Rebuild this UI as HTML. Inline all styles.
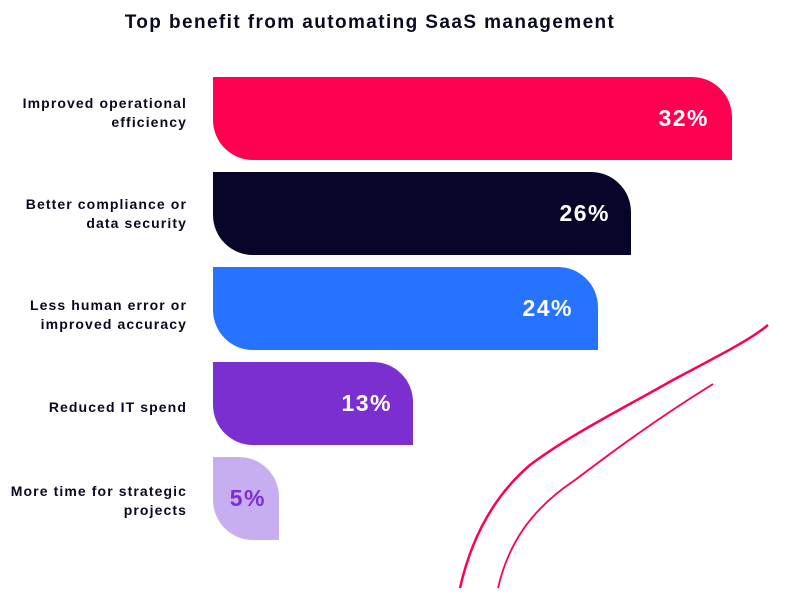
<!DOCTYPE html>
<html><head><style>
body{margin:0;width:796px;height:599px;background:#fff;position:relative;overflow:hidden;font-family:"Liberation Sans",sans-serif}
.t{position:absolute;left:0;width:740px;text-align:center;top:12px;font-size:19px;font-weight:bold;color:#0a0a1e;letter-spacing:1.4px}
.l{position:absolute;right:609px;text-align:right;font-size:14px;font-weight:bold;color:#0a0a1e;line-height:19px;letter-spacing:1.1px}
.b{position:absolute;left:213px;height:83px;border-radius:0 40px 0 40px;color:#fff;font-weight:bold;font-size:23px;text-align:right;box-sizing:border-box;line-height:83px;letter-spacing:1.5px}
</style></head><body>
<div class="t">Top benefit from automating SaaS management</div>
<svg style="position:absolute;left:0;top:0" width="796" height="599">
<path d="M460 588 C472 535 495 495 530 465 C570 435 620 410 673 380 C720 355 750 340 768 325" stroke="#ff0050" stroke-width="2.5" fill="none"/>
<path d="M498 588 C508 545 530 510 575 480 C612 452 655 420 713 384" stroke="#ff0050" stroke-width="1.8" fill="none"/>
</svg>
<div class="b" style="top:77px;width:519px;background:#ff0050;padding-right:23px">32%</div>
<div class="b" style="top:172px;width:418px;background:#07062a;padding-right:21px">26%</div>
<div class="b" style="top:267px;width:385px;background:#2673ff;padding-right:25px">24%</div>
<div class="b" style="top:362px;width:200px;background:#7b2fd0;padding-right:21px">13%</div>
<div class="b" style="top:457px;width:66px;background:#c7aef0;color:#7b2fd0;padding-right:13px">5%</div>
<div class="l" style="top:94px">Improved operational<br>efficiency</div>
<div class="l" style="top:195px">Better compliance or<br>data security</div>
<div class="l" style="top:296px">Less human error or<br>improved accuracy</div>
<div class="l" style="top:398px">Reduced IT spend</div>
<div class="l" style="top:482px">More time for strategic<br>projects</div>
</body></html>
